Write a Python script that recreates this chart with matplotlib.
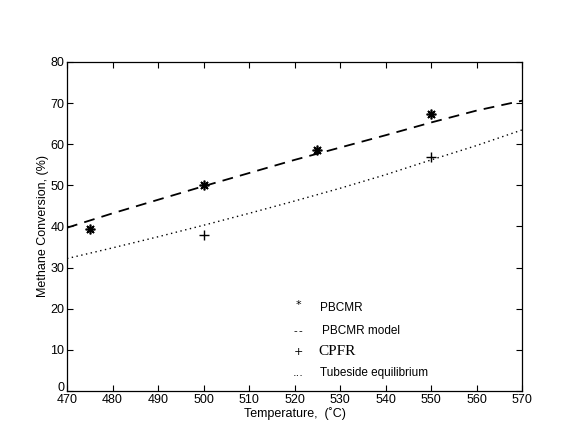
import matplotlib
matplotlib.use("Agg")
import matplotlib.pyplot as plt
import matplotlib.transforms as mtransforms
import numpy as np

plt.rcParams['font.family'] = ['Liberation Sans', 'DejaVu Sans']

# Data
pbcmr_T = [475, 500, 525, 550]
pbcmr_X = [39.3, 50.0, 58.7, 67.3]

cpfr_T = [500, 550]
cpfr_X = [38.0, 56.8]

model_T = [470, 480, 490, 500, 510, 520, 530, 540, 550, 560, 570]
model_X = [39.7, 43.2, 46.5, 49.8, 53.0, 56.2, 59.2, 62.2, 65.3, 68.2, 70.6]

equil_T = [470, 480, 490, 500, 510, 520, 530, 540, 550, 560, 570]
equil_X = [32.2, 34.8, 37.5, 40.3, 43.2, 46.2, 49.3, 52.6, 56.2, 59.7, 63.5]

xticks = [470, 480, 490, 500, 510, 520, 530, 540, 550, 560, 570]
yticks = [0, 10, 20, 30, 40, 50, 60, 70, 80]

legend_symbols = ['*', '--', '+', '...']
legend_labels = ['PBCMR', 'PBCMR model', 'CPFR', 'Tubeside equilibrium']

fig = plt.figure(figsize=(5.8, 4.47), dpi=100)
ax = fig.add_axes([0.1155, 0.1253, 0.785, 0.736])

ax.plot(model_T, model_X, color='black', linestyle=(0, (6, 4)), linewidth=1.3)
ax.plot(equil_T, equil_X, color='black', linestyle=(0, (1, 2.5)), linewidth=1.0)
ax.plot(pbcmr_T, pbcmr_X, linestyle='none', marker=(8, 2, 0), markersize=7,
        markeredgewidth=1.2, color='black')
ax.plot(cpfr_T, cpfr_X, linestyle='none', marker='+', markersize=7,
        markeredgewidth=1.0, color='black')

ax.set_xlim(470, 570)
ax.set_ylim(0, 80)
ax.set_xticks(xticks)
ax.set_yticks(yticks)
ax.tick_params(direction='in', top=True, right=True, labelsize=9, length=4,
               width=0.8, pad=2)
for s in ax.spines.values():
    s.set_linewidth(0.9)

# nudge the "0" label up a little, as in the original
zero_lab = ax.get_yticklabels()[0]
zero_lab.set_transform(zero_lab.get_transform() +
                       mtransforms.ScaledTranslation(0, 3 / 72, fig.dpi_scale_trans))

ax.set_xlabel('Temperature,  (˚C)', fontsize=9, labelpad=1)
ax.set_ylabel('Methane Conversion, (%)', fontsize=9, labelpad=1)

# Legend drawn as text, like the original
ys = [20.2, 14.6, 9.5, 4.4]
for sym, lab, yv in zip(legend_symbols, legend_labels, ys):
    if sym == '--':
        ax.text(520.1, yv, '-', fontsize=8, ha='center', va='center')
        ax.text(521.3, yv, '-', fontsize=8, ha='center', va='center')
    else:
        ax.text(520.8, yv + (0.8 if sym == '*' else 0), sym, fontsize=8, ha='center',
                va='center', family=['DejaVu Sans'])
    if lab == 'CPFR':
        ax.text(525.3, yv, lab, fontsize=11, family=['Liberation Serif', 'DejaVu Serif'],
                ha='left', va='center')
    else:
        ax.text(525.5 if lab != 'PBCMR model' else 526.0, yv, lab, fontsize=8.5,
                ha='left', va='center')

fig.savefig('out.png', dpi=100, facecolor='white')
